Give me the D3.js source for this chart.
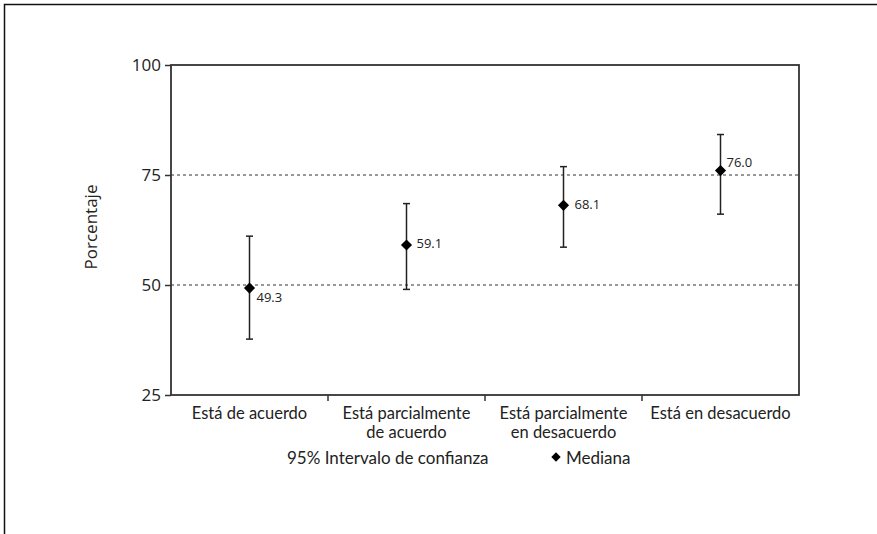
<!DOCTYPE html>
<html>
<head>
<meta charset="utf-8">
<script src="https://cdn.jsdelivr.net/npm/d3@7"></script>
<style>
  body { margin: 0; background: #fff; }
  svg { display: block; }
</style>
</head>
<body>
<svg></svg>
<script>
const width = 877;
const height = 534;

// data
const categories = [
    ["Está de acuerdo"],
    ["Está parcialmente", "de acuerdo"],
    ["Está parcialmente", "en desacuerdo"],
    ["Está en desacuerdo"]
];
const medians = [49.3, 59.1, 68.1, 76.0];
const lower = [37.7, 49.0, 58.6, 66.1];
const upper = [61.1, 68.5, 76.9, 84.2];
const yTicks = [25, 50, 75, 100];
const gridValues = [50, 75];

const margin = { top: 65, right: 78, bottom: 139, left: 171 };

const svg = d3.select("svg")
    .attr("width", width)
    .attr("height", height);

// outer frame: only top and left edges show
svg.append("path")
    .attr("d", `M4.5,${height} V4.5 H${width}`)
    .attr("fill", "none")
    .attr("stroke", "#111")
    .attr("stroke-width", 1.5);

const xScale = d3.scaleBand()
    .domain(d3.range(categories.length))
    .range([margin.left, width - margin.right]);

const yScale = d3.scaleLinear()
    .domain([25, 100])
    .range([height - margin.bottom, margin.top]);

// dashed grid lines
svg.selectAll(".grid")
    .data(gridValues)
    .enter()
    .append("line")
    .attr("class", "grid")
    .attr("x1", margin.left)
    .attr("x2", width - margin.right)
    .attr("y1", d => yScale(d))
    .attr("y2", d => yScale(d))
    .attr("stroke", "#777")
    .attr("stroke-width", 1.3)
    .attr("stroke-dasharray", "3,3");

// plot box
svg.append("rect")
    .attr("x", margin.left)
    .attr("y", margin.top)
    .attr("width", width - margin.left - margin.right)
    .attr("height", height - margin.top - margin.bottom)
    .attr("fill", "none")
    .attr("stroke", "#333")
    .attr("stroke-width", 1.8);

const yAxis = d3.axisLeft(yScale)
    .tickValues(yTicks)
    .tickSize(6)
    .tickPadding(4);

svg.append("g")
    .attr("transform", `translate(${margin.left}, 0)`)
    .call(yAxis)
    .call(g => g.select(".domain").remove())
    .call(g => g.selectAll("line").attr("stroke", "#333").attr("stroke-width", 1.5))
    .call(g => g.selectAll("text")
        .attr("fill", "#222")
        .style("font-family", "'Open Sans', sans-serif")
        .style("font-size", "17px"));

// x ticks on the band boundaries
svg.selectAll(".xtick")
    .data(d3.range(1, categories.length))
    .enter()
    .append("line")
    .attr("class", "xtick")
    .attr("x1", d => xScale(d))
    .attr("x2", d => xScale(d))
    .attr("y1", height - margin.bottom)
    .attr("y2", height - margin.bottom + 6)
    .attr("stroke", "#333")
    .attr("stroke-width", 1.5);

// category labels, one text per line
const catLines = categories.flatMap((lines, i) => lines.map((t, j) => ({ i, j, t })));
svg.selectAll(".cat")
    .data(catLines)
    .enter()
    .append("text")
    .attr("class", "cat")
    .attr("x", d => xScale(d.i) + xScale.bandwidth() / 2)
    .attr("y", d => height - margin.bottom + 24 + d.j * 19)
    .attr("text-anchor", "middle")
    .attr("fill", "#222")
    .style("font-family", "Lato, sans-serif")
    .style("font-size", "16.5px")
    .text(d => d.t);

// y axis title
svg.append("text")
    .attr("transform", `translate(92, ${(margin.top + height - margin.bottom) / 2 - 3}) rotate(-90)`)
    .attr("text-anchor", "middle")
    .attr("dominant-baseline", "middle")
    .attr("fill", "#222")
    .style("font-family", "'Open Sans', sans-serif")
    .style("font-size", "17px")
    .text("Porcentaje");

const cx = i => xScale(i) + xScale.bandwidth() / 2;
const diamond = d3.symbol().type(d3.symbolSquare).size(62);

// error bars
const bars = svg.selectAll(".ci")
    .data(medians.map((m, i) => ({ i, m, lo: lower[i], hi: upper[i] })))
    .enter()
    .append("g")
    .attr("class", "ci")
    .attr("stroke", "#222")
    .attr("stroke-width", 1.5);

bars.append("line")
    .attr("x1", d => cx(d.i)).attr("x2", d => cx(d.i))
    .attr("y1", d => yScale(d.lo)).attr("y2", d => yScale(d.hi));

bars.append("line")
    .attr("x1", d => cx(d.i) - 3.5).attr("x2", d => cx(d.i) + 3.5)
    .attr("y1", d => yScale(d.hi)).attr("y2", d => yScale(d.hi));

bars.append("line")
    .attr("x1", d => cx(d.i) - 3.5).attr("x2", d => cx(d.i) + 3.5)
    .attr("y1", d => yScale(d.lo)).attr("y2", d => yScale(d.lo));

// medians
svg.selectAll(".median")
    .data(medians)
    .enter()
    .append("path")
    .attr("class", "median")
    .attr("d", diamond)
    .attr("transform", (d, i) => `translate(${cx(i)}, ${yScale(d)}) rotate(45)`)
    .attr("fill", "#000");

// value labels
const labelOffsets = [[7, 10], [10, 0], [11, 0], [6, -7]];
svg.selectAll(".value")
    .data(medians)
    .enter()
    .append("text")
    .attr("class", "value")
    .attr("x", (d, i) => cx(i) + labelOffsets[i][0])
    .attr("y", (d, i) => yScale(d) + labelOffsets[i][1])
    .attr("dominant-baseline", "middle")
    .attr("fill", "#222")
    .style("font-family", "'Open Sans', sans-serif")
    .style("font-size", "13px")
    .text(d => d.toFixed(1));

// legend
const legendY = 460;
svg.append("text")
    .attr("x", 287)
    .attr("y", legendY)
    .attr("dominant-baseline", "middle")
    .attr("fill", "#222")
    .style("font-family", "Lato, sans-serif")
    .style("font-size", "17px")
    .text("95% Intervalo de confianza");

svg.append("path")
    .attr("d", diamond.size(44)())
    .attr("transform", `translate(556, ${legendY - 3}) rotate(45)`)
    .attr("fill", "#000");

svg.append("text")
    .attr("x", 566)
    .attr("y", legendY)
    .attr("dominant-baseline", "middle")
    .attr("fill", "#222")
    .style("font-family", "Lato, sans-serif")
    .style("font-size", "17px")
    .text("Mediana");
</script>
</body>
</html>
